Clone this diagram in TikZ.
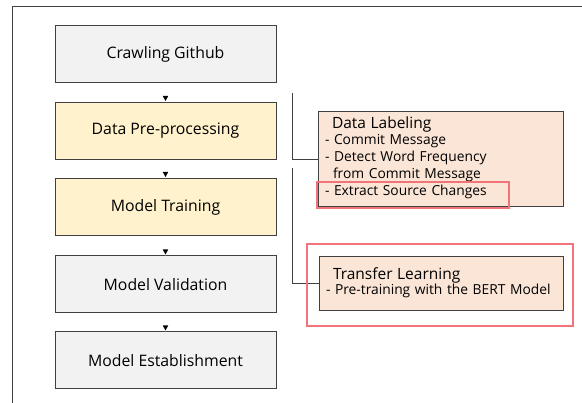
\documentclass[tikz,border=0pt]{standalone}
\usepackage{fontspec}
\setmainfont{Open Sans}
\usetikzlibrary{arrows.meta}
\definecolor{boxgray}{HTML}{F2F2F2}
\definecolor{boxyellow}{HTML}{FFF2CC}
\definecolor{boxpeach}{HTML}{FBE5D6}
\definecolor{edgegray}{HTML}{404040}
\definecolor{hired}{HTML}{F27478}
\newcommand\notetitle[1]{\hspace*{7pt}{\fontsize{15.5}{17}\selectfont #1}}
\begin{document}
\begin{tikzpicture}[x=1pt,y=-1pt,
    stepbox/.style={draw=edgegray,line width=1pt,minimum width=221pt,minimum height=57pt,
                    inner sep=0pt,font=\fontsize{15.8}{18}\selectfont},
    notebox/.style={draw=edgegray,line width=1pt,fill=boxpeach,anchor=north west,
                    inner xsep=6.5pt,inner ysep=0pt,align=left,
                    font=\fontsize{13.8}{17}\selectfont},
    flow/.style={draw=white,-{Triangle[length=5pt,width=5.5pt]},shorten <=14pt},
    bracket/.style={draw=edgegray,line width=0.7pt},
    hilite/.style={draw=hired,line width=2.4pt}]
\useasboundingbox (0,0) rectangle (582,403);
% frame
\draw[edgegray,line width=1pt] (582,7) -- (12,7) -- (12,403);
% process steps
\node[stepbox,fill=boxgray] (crawl) at (165.5,54) {Crawling Github};
\node[stepbox,fill=boxyellow] (prep) at (165.5,131) {Data Pre-processing};
\node[stepbox,fill=boxyellow] (train) at (165.5,207) {Model Training};
\node[stepbox,fill=boxgray] (valid) at (165.5,284.5) {Model Validation};
\node[stepbox,fill=boxgray] (estab) at (165.5,360.5) {Model Establishment};
\foreach \a/\b in {crawl/prep,prep/train,train/valid,valid/estab}
  \draw[flow] (\a) -- (\b);
\foreach \a/\b in {crawl/prep,prep/train,train/valid,valid/estab}
  \fill[black] ([xshift=-2.7pt,yshift=6pt]\b.north) -- ([xshift=2.7pt,yshift=6pt]\b.north) -- ([yshift=1pt]\b.north) -- cycle;
% details
\node[notebox,text width=232pt,minimum height=95pt] (label) at (318,111)
  {\begin{tabular}{@{}l@{}}
   \notetitle{Data Labeling}\\[-1pt]
   - Commit Message\\
   - Detect Word Frequency\\
   \hspace*{8pt}from Commit Message\\
   - Extract Source Changes
   \end{tabular}};
\node[notebox,text width=231pt,minimum height=54pt] (transfer) at (319,256)
  {\begin{tabular}{@{}l@{}}
   \notetitle{Transfer Learning}\\[-2pt]
   - Pre-training with the BERT Model
   \end{tabular}};
\coordinate (labeltop) at (292,93);
\coordinate (transfertop) at (292,168);
\draw[bracket] (labeltop) |- (label.west);
\draw[bracket] (transfertop) |- (transfer.west);
% highlights
\draw[hilite] (317,182) rectangle (509,208);
\draw[hilite] (307,244) rectangle (573,326);
\end{tikzpicture}
\end{document}
